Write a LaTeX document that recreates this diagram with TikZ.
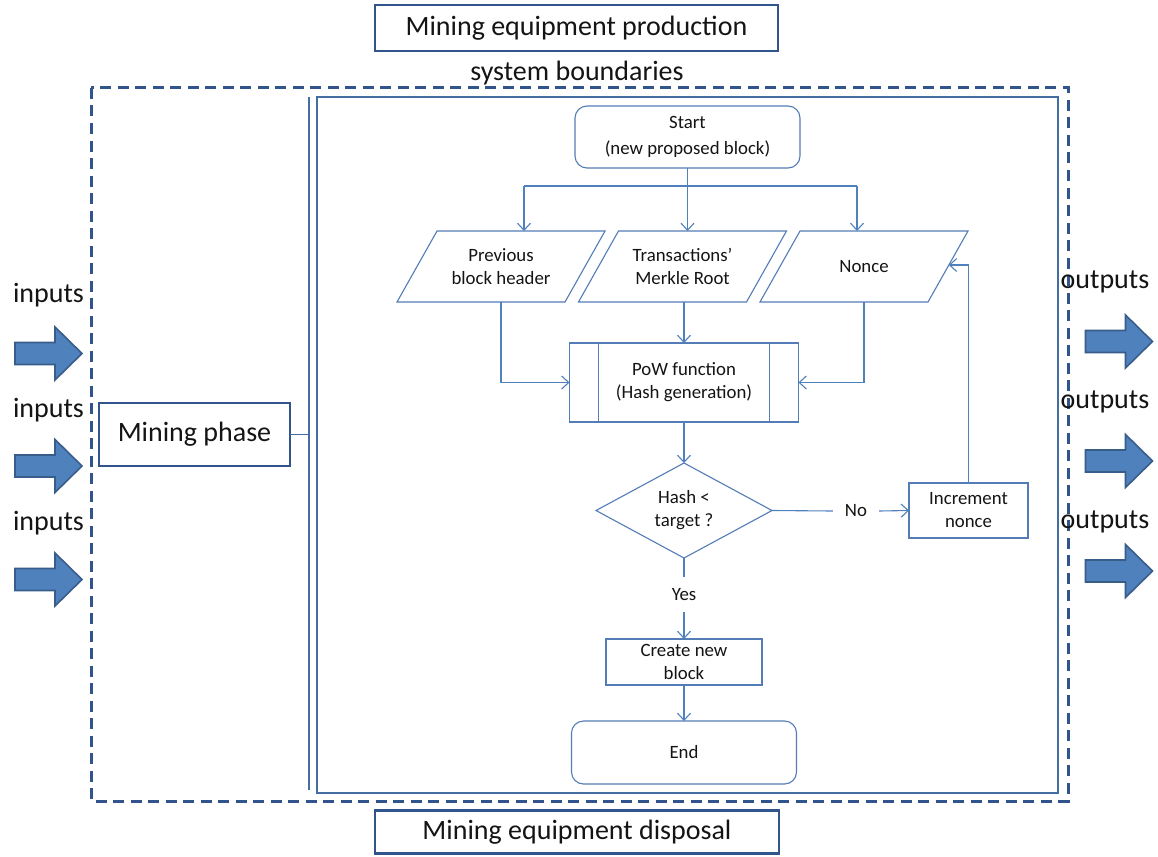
\documentclass[tikz,border=0pt]{standalone}
\usepackage{fontspec}
\setmainfont{Carlito}
\usetikzlibrary{arrows.meta,shapes.geometric,calc}
\definecolor{navy}{RGB}{50,84,140}
\definecolor{flowblue}{RGB}{79,129,189}
\definecolor{shapeblue}{RGB}{84,124,182}
\definecolor{arrowfill}{RGB}{79,129,189}
\definecolor{arrowedge}{RGB}{56,93,138}
\definecolor{txt}{RGB}{20,20,20}
\tikzset{
  bigtext/.style={font=\fontsize{28}{30}\selectfont, text=txt, inner sep=0pt},
  smalltext/.style={font=\fontsize{18.8}{23}\selectfont, text=txt, align=center},
  phasebox/.style={draw=navy, line width=2.6pt, bigtext, minimum width=#1, minimum height=46pt, outer sep=0pt},
  flowbox/.style={draw=shapeblue, line width=1.1pt, smalltext, inner sep=0pt, outer sep=0pt},
  termbox/.style={flowbox, rounded corners=12pt},
  iobox/.style={smalltext, inner sep=0pt, outer sep=0pt, minimum width=208pt, minimum height=71pt},
  conn/.style={draw=flowblue, line width=1.1pt},
  arr/.style={conn, -{Straight Barb[length=7pt,width=13pt,line width=1.1pt]}},
  boundary/.style={draw=navy, line width=3pt, dash pattern=on 11pt off 6.5pt},
  frame/.style={draw=flowblue!85!black, line width=1.1pt},
  blockarrow/.pic={
    \draw[fill=arrowfill, draw=arrowedge, line width=1.6pt, line join=miter]
      (-33.5,-11) -- (6.5,-11) -- (6.5,-26.5) -- (33.5,0) -- (6.5,26.5) -- (6.5,11) -- (-33.5,11) -- cycle;
  }
}
\begin{document}
\begin{tikzpicture}[x=1pt,y=-1pt]
\useasboundingbox[fill=white] (0,0) rectangle (1158,856);

% life-cycle stages outside the boundary
\node[phasebox=403pt] (prod) at (576.5,28) {Mining equipment production};
\node[phasebox=404pt, minimum height=43pt] (disp) at (577,832) {Mining equipment disposal};
\node[bigtext] (sysb) at (577,73) {system boundaries};

% system boundary and mining stage frame
\draw[boundary] (91,88) rectangle (1068,801);
\draw[frame] (317,97) rectangle (1058,793);
\coordinate (brkT) at (309,97);
\coordinate (brkB) at (309,790);
\draw[frame] (brkT) -- (brkB);

\node[phasebox=191pt, minimum height=63pt] (mine) at (194.5,434.5) {Mining phase};
\coordinate (brkM) at (309,434.5);
\draw[frame] (mine.east) -- (brkM);

% inputs and outputs
\node[bigtext] (in1) at (48.5,295) {inputs};
\node[bigtext] (in2) at (48.5,410) {inputs};
\node[bigtext] (in3) at (48.5,523) {inputs};
\pic at (48.5,353.5) {blockarrow};
\pic at (48.5,466) {blockarrow};
\pic at (48.5,579.5) {blockarrow};

\node[bigtext] (out1) at (1105,282) {outputs};
\node[bigtext] (out2) at (1105,402) {outputs};
\node[bigtext] (out3) at (1105,522) {outputs};
\pic at (1119,341.5) {blockarrow};
\pic at (1119,461) {blockarrow};
\pic at (1119,571) {blockarrow};

% proof-of-work flowchart
\node[termbox, minimum width=225pt, minimum height=62pt] (start) at (687.5,137)
  {Start\\[3pt](new proposed block)};

\node[iobox] (p1) at (501,266.5) {Previous\\block header};
\node[iobox] (p2) at (682.5,266.5) {Transactions'\\Merkle Root};
\node[iobox] (p3) at (864,266.5) {Nonce};
\foreach \n in {p1,p2,p3}
  \draw[draw=shapeblue, line width=1.1pt, line join=miter]
    ($(\n.north west)+(40,0)$) -- (\n.north east) -- ($(\n.south east)+(-40,0)$) -- (\n.south west) -- cycle;

\node[flowbox, minimum width=229pt, minimum height=79pt] (pow) at (684,382.5)
  {PoW function\\(Hash generation)};
\draw[draw=shapeblue, line width=1.1pt] ($(pow.north west)+(29,0)$) -- ($(pow.south west)+(29,0)$);
\draw[draw=shapeblue, line width=1.1pt] ($(pow.north east)+(-29,0)$) -- ($(pow.south east)+(-29,0)$);

\node[flowbox, diamond, minimum width=176pt, minimum height=95pt, aspect=1.85] (dia) at (684,510.5)
  {Hash <\\target ?};

\node[smalltext, inner sep=0pt, minimum width=46pt, minimum height=20pt] (no) at (856,511) {No};
\node[flowbox, minimum width=119pt, minimum height=55pt] (inc) at (968.5,510.5) {Increment\\nonce};

\node[smalltext, inner sep=0pt, minimum height=35pt] (yes) at (684,594.5) {Yes};
\node[flowbox, minimum width=156pt, minimum height=46pt] (create) at (684,662) {Create new\\block};
\node[termbox, minimum width=225pt, minimum height=63pt] (end) at (684,752.5) {End};

% connectors
\coordinate (split) at ($(start.south)+(0,18)$);
\coordinate (splitL) at (524,186);
\coordinate (splitR) at (857,186);
\draw[conn] (start.south) -- (split);
\draw[conn] (splitL) -- (splitR);
\draw[arr] (splitL) -- (splitL |- p1.north);
\draw[arr] (split) -- (split |- p2.north);
\draw[arr] (splitR) -- (splitR |- p3.north);

\draw[arr] (p1.south) |- (pow.west);
\draw[arr] (p2.south -| pow.north) -- (pow.north);
\draw[arr] (p3.south) |- (pow.east);
\draw[arr] (pow.south) -- (dia.north);

\draw[conn] (dia.east) -- (no.west);
\draw[arr] (no.east) -- (inc.west);
\coordinate (nin) at ($(p3.north east)!0.479!($(p3.south east)+(-40,0)$)$);
\draw[arr] (inc.north) |- (nin);

\draw[conn] (dia.south) -- (yes.north);
\draw[arr] (yes.south) -- (create.north);
\draw[arr] (create.south) -- (end.north);
\end{tikzpicture}
\end{document}
